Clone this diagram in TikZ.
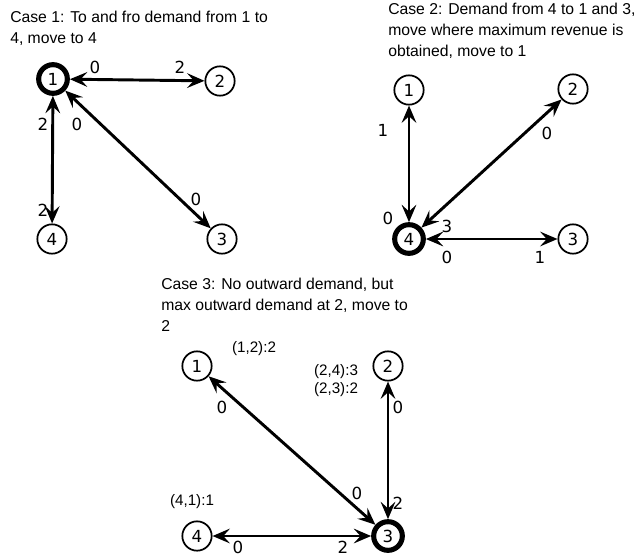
\documentclass[tikz,border=0pt]{standalone}
\usepackage{fontspec}
\setmainfont{Liberation Sans}
\newfontfamily\numfont{DejaVu Sans}
\usetikzlibrary{arrows.meta}
\begin{document}
\begin{tikzpicture}[x=0.75pt,y=-0.75pt,
  vert/.style={circle,draw,line width=1.3pt,minimum size=22pt,inner sep=0pt,font=\numfont\fontsize{12.5pt}{14pt}\selectfont},
  cur/.style={vert,line width=3.8pt,minimum size=21.5pt},
  link/.style={line width=2.2pt,{Stealth[length=13pt,width=11pt,inset=5pt]}-{Stealth[length=13pt,width=11pt,inset=5pt]}},
  lab/.style={font=\numfont\fontsize{12.5pt}{14pt}\selectfont,inner sep=0pt},
  pair/.style={font=\fontsize{11.4pt}{13.5pt}\selectfont,inner sep=0pt,align=left},
  title/.style={font=\fontsize{11.8pt}{15.75pt}\selectfont,inner sep=0pt,align=left,anchor=north west}]
\useasboundingbox (0,0) rectangle (634,557);
% Case 1
\node[title] (t1) at (10,11) {Case 1: To and fro demand from 1 to\\4, move to 4};
\node[cur] (a1) at (53,79) {1};
\node[vert] (a2) at (220,81) {2};
\node[vert] (a3) at (222,239) {3};
\node[vert] (a4) at (52,239) {4};
\draw[link] (a1) -- (a2);
\draw[link] (a1) -- (a4);
\draw[link] (a1) -- (a3);
\node[lab] (l1) at (95,67) {0};
\node[lab] (l2) at (180,67) {2};
\node[lab] (l3) at (43,124) {2};
\node[lab] (l4) at (77,124) {0};
\node[lab] (l5) at (43,210) {2};
\node[lab] (l6) at (196,199) {0};
% Case 2
\node[title] (t2) at (388,3) {Case 2: Demand from 4 to 1 and 3,\\move where maximum revenue is\\obtained, move to 1};
\node[vert] (b1) at (409,90) {1};
\node[vert] (b2) at (573,89) {2};
\node[vert] (b3) at (573,239) {3};
\node[cur] (b4) at (409,239) {4};
\draw[link] (b4) -- (b1);
\draw[link] (b4) -- (b2);
\draw[link] (b4) -- (b3);
\node[lab] (m1) at (383,130) {1};
\node[lab] (m2) at (547,133) {0};
\node[lab] (m3) at (388,218) {0};
\node[lab] (m4) at (447,226) {3};
\node[lab] (m5) at (447,257) {0};
\node[lab] (m6) at (540,257) {1};
% Case 3
\node[title] (t3) at (161,278) {Case 3: No outward demand, but\\max outward demand at 2, move to\\2};
\node[vert] (c1) at (197,366) {1};
\node[vert] (c2) at (388,366) {2};
\node[cur] (c3) at (388,536) {3};
\node[vert] (c4) at (197,536) {4};
\draw[link] (c3) -- (c1);
\draw[link] (c3) -- (c2);
\draw[link] (c3) -- (c4);
\node[pair] (p1) at (254,349) {(1,2):2};
\node[pair] (p2) at (336,381) {(2,4):3\\(2,3):2};
\node[pair] (p3) at (192,502) {(4,1):1};
\node[lab] (n1) at (222,407) {0};
\node[lab] (n2) at (398,407) {0};
\node[lab] (n3) at (357,493) {0};
\node[lab] (n4) at (398,503) {2};
\node[lab] (n5) at (238,547) {0};
\node[lab] (n6) at (343,547) {2};
\end{tikzpicture}
\end{document}
